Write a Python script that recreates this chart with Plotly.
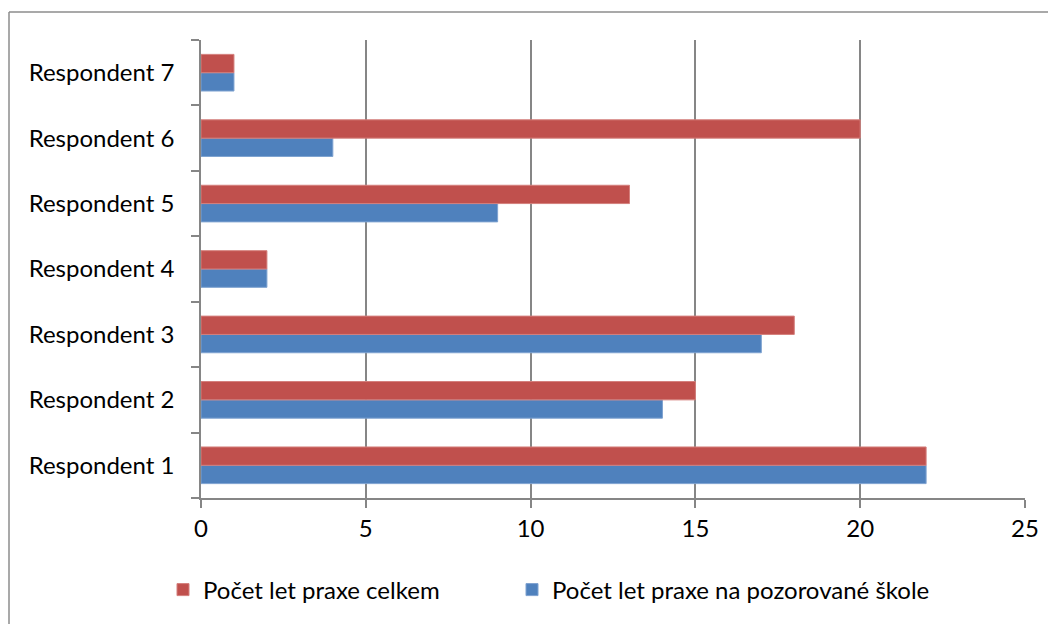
import plotly.graph_objects as go

categories = ["Respondent 1", "Respondent 2", "Respondent 3", "Respondent 4",
              "Respondent 5", "Respondent 6", "Respondent 7"]
praxe_skola = [22, 14, 17, 2, 9, 4, 1]
praxe_celkem = [22, 15, 18, 2, 13, 20, 1]
series_names = ["Počet let praxe na pozorované škole", "Počet let praxe celkem"]
x_ticks = [0, 5, 10, 15, 20, 25]

FONT = "Lato, Carlito, Calibri, sans-serif"
GRID = "#868686"
OFF = 8  # page body margin

W, H = 1056 - OFF, 624 - OFF
L, R, T, B = 201 - OFF, 1056 - 1025, 40 - OFF, 624 - 498
pw, ph = W - L - R, H - T - B

def px_x(p):  # page pixel -> paper
    return (p - OFF - L) / pw

def px_y(p):
    return (H - B - (p - OFF)) / ph

fig = go.Figure()
fig.add_trace(go.Bar(
    y=categories, x=praxe_skola, orientation="h", name=series_names[0],
    marker=dict(color="#4F81BD", line=dict(color="#7ea2d0", width=1)),
    legend="legend2",
))
fig.add_trace(go.Bar(
    y=categories, x=praxe_celkem, orientation="h", name=series_names[1],
    marker=dict(color="#C0504D", line=dict(color="#d47f7c", width=1)),
    legend="legend",
))

legend_common = dict(
    orientation="h", yanchor="middle", xanchor="left",
    font=dict(family=FONT, size=24, color="black"),
    bgcolor="rgba(0,0,0,0)",
)

fig.update_layout(
    width=W, height=H,
    margin=dict(l=L, r=R, t=T, b=B, pad=0),
    paper_bgcolor="white", plot_bgcolor="white",
    barmode="group", bargap=0.44, bargroupgap=0,
    font=dict(family=FONT, size=24, color="black"),
    showlegend=True,
    legend=dict(x=px_x(163), y=px_y(590), **legend_common),
    legend2=dict(x=px_x(512), y=px_y(590), **legend_common),
    xaxis=dict(
        range=[0, 25], tickvals=x_ticks, ticktext=[str(v) for v in x_ticks],
        showgrid=True, gridcolor=GRID, gridwidth=1.5,
        showline=True, linecolor=GRID, linewidth=1.5,
        ticks="outside", ticklen=8, tickcolor=GRID, tickwidth=1.5,
        zeroline=False, fixedrange=True,
    ),
    yaxis=dict(
        type="category", categoryorder="array", categoryarray=categories,
        showgrid=False, showline=True, linecolor=GRID, linewidth=1.5,
        ticks="outside", ticklen=8, tickcolor=GRID, tickwidth=1.5,
        tickson="boundaries", ticklabelstandoff=20,
        zeroline=False, fixedrange=True,
    ),
    shapes=[
        dict(type="line", xref="paper", yref="paper",
             x0=px_x(9), x1=px_x(1070), y0=px_y(12), y1=px_y(12),
             line=dict(color="#8c8c8c", width=1.5)),
        dict(type="line", xref="paper", yref="paper",
             x0=px_x(9), x1=px_x(9), y0=px_y(12), y1=px_y(640),
             line=dict(color="#8c8c8c", width=1.5)),
    ],
)

fig.write_html("out.html")
